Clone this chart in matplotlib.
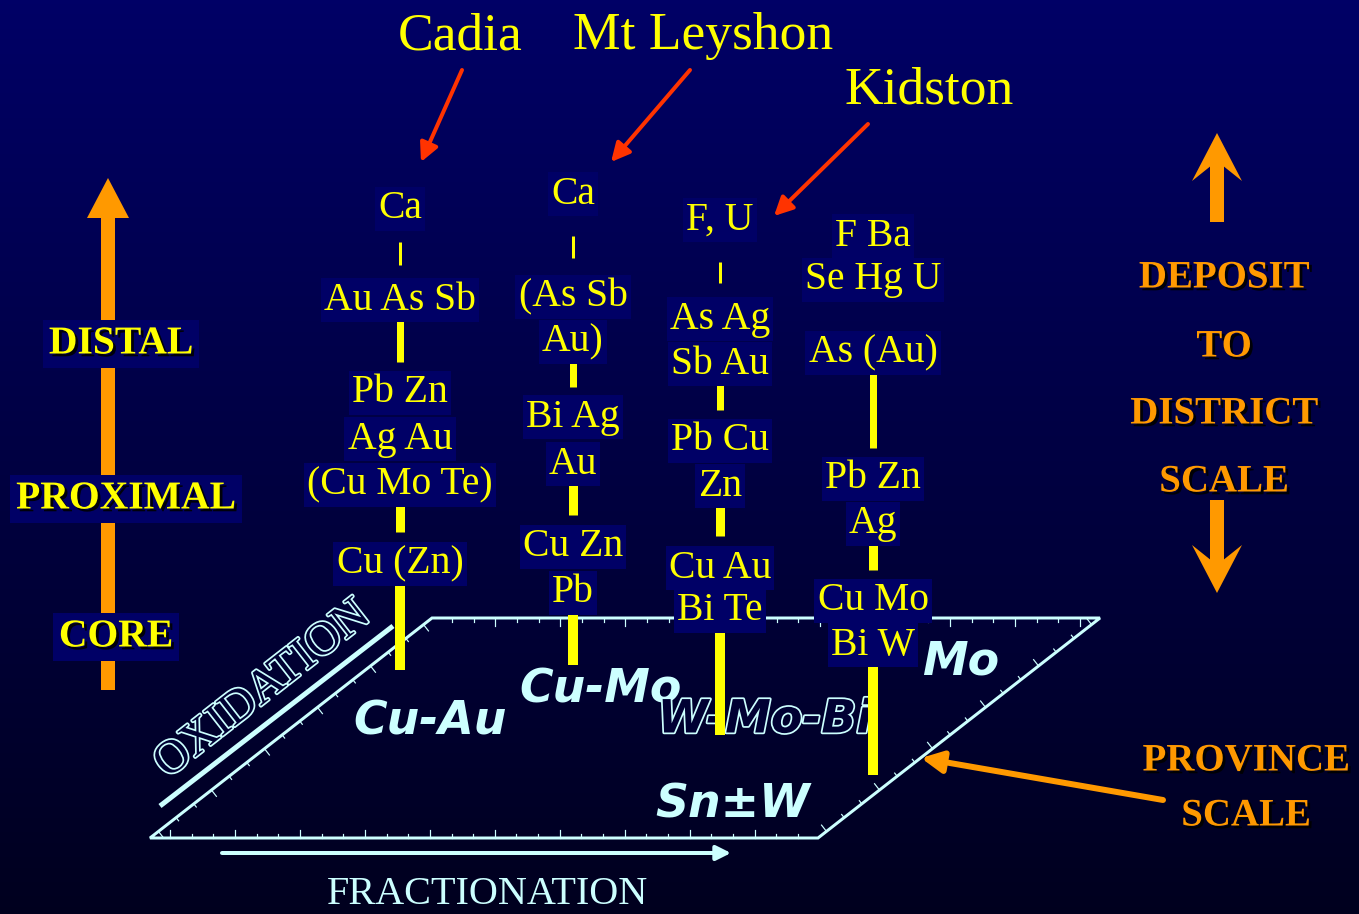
import numpy as np
import matplotlib.pyplot as plt
import matplotlib.patheffects as pe
from matplotlib.patches import FancyArrow, Polygon

# deposit names and element zoning for each column
deposits = ["Cadia", "Mt Leyshon", "Kidston"]
cadia = [["Ca"], ["Au As Sb"], ["Pb Zn", "Ag Au", "(Cu Mo Te)"], ["Cu (Zn)"]]
leyshon = [["Ca"], ["(As Sb", "Au)"], ["Bi Ag", "Au"], ["Cu Zn", "Pb"]]
kidston = [["F, U"], ["As Ag", "Sb Au"], ["Pb Cu", "Zn"], ["Cu Au", "Bi Te"]]
distal_type = [["F Ba", "Se Hg U"], ["As (Au)"], ["Pb Zn", "Ag"], ["Cu Mo", "Bi W"]]
columns = [cadia, leyshon, kidston, distal_type]

left_labels = ["DISTAL", "PROXIMAL", "CORE"]
right_labels = ["DEPOSIT", "TO", "DISTRICT", "SCALE"]
province_label = ["PROVINCE", "SCALE"]
plane_labels = ["Cu-Au", "Cu-Mo", "W-Mo-Bi", "Mo", "Sn\u00b1W"]

# layout (pixels)
col_x = [400, 573, 720, 873]
col_text_y = [
    [[205], [296], [389, 435, 481], [560]],
    [[190], [293, 338], [413, 460], [543, 589]],
    [[216], [315, 360], [437, 482], [564, 607]],
    [[232, 276], [349], [475, 520], [597, 641]],
]
col_bars = [
    [(242, 265, 3), (318, 362, 7), (502, 532, 9), (580, 670, 10)],
    [(236, 258, 3), (360, 387, 7), (482, 515, 9), (610, 665, 10)],
    [(262, 283, 3), (382, 410, 7), (504, 536, 9), (630, 735, 10)],
    [(372, 448, 7), (542, 570, 9), (664, 775, 10)],
]

W, H = 1359, 914
YEL = "#FFFF00"
ORG = "#FF9900"
CYAN = "#CCFFFF"
BOX = "#000066"
px = 72 / 100  # pixels -> points
dy = 4  # serif glyphs sit a little low in the original

fig = plt.figure(figsize=(W / 100, H / 100), dpi=100)
ax = fig.add_axes([0, 0, 1, 1])
ax.set_xlim(0, W)
ax.set_ylim(H, 0)
ax.axis("off")

# background gradient
t = np.linspace(0, 1, 256)[:, None]
grad = np.dstack([0 * t, 0 * t, 0.40 - 0.28 * t])
ax.imshow(grad, extent=[0, W, H, 0], aspect="auto", zorder=0)

serif = "Liberation Serif"
boxkw = dict(boxstyle="square,pad=0.08", fc=BOX, ec="none")

# deposit titles and red arrows
title_pos = [(460, 32), (703, 32), (929, 87)]
red_arrows = [((462, 70), (421, 162)), ((690, 70), (611, 162)), ((868, 124), (774, 216))]
for name, (x, y), (a, b) in zip(deposits, title_pos, red_arrows):
    ax.text(x, y + dy, name, color=YEL, fontsize=38.5, family=serif, ha="center", va="center")
    ax.annotate("", xy=b, xytext=a,
                arrowprops=dict(arrowstyle="-|>", color="#FF3300", lw=4 * px,
                                mutation_scale=28, shrinkA=0, shrinkB=0))

# province plane (parallelogram)
plane = [(150, 838), (818, 838), (1100, 618), (432, 618)]
ax.add_patch(Polygon(plane, closed=True, fill=False, ec=CYAN, lw=3 * px, zorder=2))
# small ticks on the plane edges
ctr = np.mean(plane, axis=0)
for i in range(4):
    p0 = np.array(plane[i], float)
    p1 = np.array(plane[(i + 1) % 4], float)
    d = p1 - p0
    n = np.array([-d[1], d[0]]) / np.hypot(*d)
    if np.dot(ctr - p0, n) < 0:
        n = -n
    for k, f in enumerate(np.linspace(0.03, 0.97, int(np.hypot(*d) / 22))):
        q = p0 + f * d
        ln = 8 if k % 3 == 0 else 4
        ax.plot([q[0], q[0] + n[0] * ln], [q[1], q[1] + n[1] * ln], color=CYAN, lw=1.2 * px, zorder=2)

# oxidation axis
ax.plot([160, 393], [806, 626], color=CYAN, lw=5 * px, solid_capstyle="butt", zorder=2)
ax.text(263, 690, "OXIDATION", color="#000033", fontsize=34, family=serif, rotation=38,
        ha="center", va="center", zorder=2,
        path_effects=[pe.withStroke(linewidth=2.5, foreground=CYAN)])

# fractionation axis
ax.annotate("", xy=(731, 853), xytext=(222, 853),
            arrowprops=dict(arrowstyle="-|>", color=CYAN, lw=4 * px, mutation_scale=22,
                            shrinkA=0, shrinkB=0))
ax.text(487, 894, "FRACTIONATION", color=CYAN, fontsize=29, family=serif,
        ha="center", va="center")

# labels on the plane
plane_pos = [(430, 722), (601, 690), (765, 720), (961, 662), (733, 805)]
for lab, (x, y) in zip(plane_labels, plane_pos):
    kw = dict(color=CYAN)
    if lab == "W-Mo-Bi":
        kw = dict(color="#000033", path_effects=[pe.withStroke(linewidth=2.5, foreground=CYAN)])
    ax.text(x, y, lab, fontsize=33, family="DejaVu Sans", weight="bold", style="oblique",
            ha="center", va="center", zorder=3, **kw)

# element zoning columns
for x, groups, ys, bars in zip(col_x, columns, col_text_y, col_bars):
    for y0, y1, w in bars:
        ax.plot([x, x], [y0, y1], color=YEL, lw=w * px, solid_capstyle="butt", zorder=4)
    for lines, yy in zip(groups, ys):
        for s, y in zip(lines, yy):
            ax.text(x, y + dy, s, color=YEL, fontsize=28.5, family=serif, ha="center",
                    va="center", bbox=boxkw, zorder=5)

shadow = [pe.withSimplePatchShadow(offset=(2, -2), shadow_rgbFace="black", alpha=0.9)]

# left core-to-distal arrow
ax.add_patch(FancyArrow(108, 690, 0, -512, width=14, head_width=42, head_length=40,
                        length_includes_head=True, color=ORG, lw=0, zorder=3))
left_pos = [(121, 340), (126, 495), (116, 633)]
for lab, (x, y) in zip(left_labels, left_pos):
    ax.text(x, y + dy, lab, color=YEL, fontsize=28.5, family=serif, weight="bold",
            ha="center", va="center", bbox=dict(boxstyle="square,pad=0.15", fc=BOX, ec="none"),
            zorder=5, path_effects=shadow)

# right scale arrows and labels
ax.add_patch(FancyArrow(1217, 222, 0, -89, width=14, head_width=50, head_length=48,
                        overhang=0.3, length_includes_head=True, color=ORG, lw=0, zorder=3))
ax.add_patch(FancyArrow(1217, 500, 0, 93, width=14, head_width=50, head_length=48,
                        overhang=0.3, length_includes_head=True, color=ORG, lw=0, zorder=3))
for lab, y in zip(right_labels, [274, 343, 410, 478]):
    ax.text(1224, y + dy, lab, color=ORG, fontsize=28, family=serif, weight="bold",
            ha="center", va="center", path_effects=shadow)

for lab, y in zip(province_label, [757, 812]):
    ax.text(1246, y + dy, lab, color=ORG, fontsize=28, family=serif, weight="bold",
            ha="center", va="center", path_effects=shadow)
ax.annotate("", xy=(921, 758), xytext=(1163, 800),
            arrowprops=dict(arrowstyle="-|>", color=ORG, lw=6 * px, mutation_scale=32,
                            shrinkA=0, shrinkB=0))

fig.savefig("out.png", dpi=100, facecolor="black")
